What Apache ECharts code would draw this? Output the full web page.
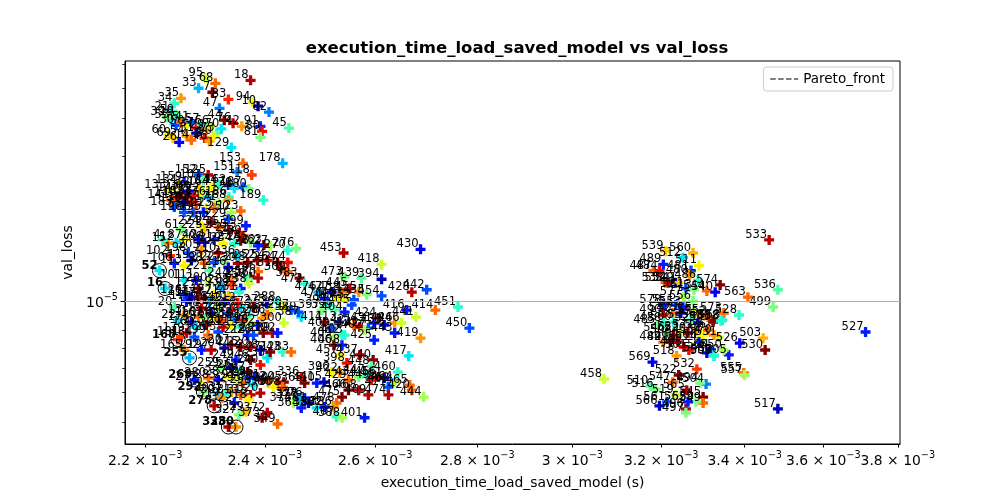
<!DOCTYPE html>
<html>
<head>
<meta charset="UTF-8">
<title></title>
</head>
<body style="margin: 0">
<div id="container" style="width: 1000px; height: 500px"></div>
<script src="https://cdn.jsdelivr.net/npm/echarts@6/dist/echarts.min.js" type="text/javascript" charset="utf-8"></script>
<script type="text/javascript">
// rows: [label, time (ms), val_loss (x1e-6), colour value 0..1 on jet]
var topLeftPts = [
  ['18', 2.375, 53.3, 0.95], ['95', 2.298, 54.1, 0.6], ['68', 2.315, 52.1, 0.8], ['33', 2.287, 50.2, 0.3],
  ['7', 2.310, 48.7, 1.0], ['83', 2.337, 46.1, 0.87], ['35', 2.258, 46.5, 0.75], ['34', 2.247, 44.8, 0.4],
  ['94', 2.378, 45.1, 0.65], ['10', 2.388, 43.8, 0.05], ['82', 2.407, 41.9, 0.25], ['47', 2.322, 43.1, 0.25],
  ['21', 2.242, 41.9, 0.35], ['19', 2.250, 40.3, 0.45], ['45', 2.442, 37.1, 0.45], ['44', 2.330, 39.4, 1.0],
  ['42', 2.360, 37.6, 0.75], ['91', 2.392, 37.6, 0.15], ['80', 2.395, 36.2, 0.9], ['81', 2.392, 34.6, 0.5],
  ['76', 2.345, 38.5, 0.95], ['129', 2.342, 32.0, 0.35], ['153', 2.362, 28.4, 0.8], ['178', 2.431, 28.4, 0.3],
  ['151', 2.352, 26.6, 0.25], ['118', 2.377, 26.0, 0.85],
  ['53', 2.242, 39.4, 0.35], ['30', 2.250, 37.9, 0.2], ['5', 2.258, 38.8, 0.8], ['50', 2.267, 37.6, 0.65],
  ['41', 2.275, 38.8, 0.2], ['37', 2.283, 37.1, 0.9], ['57', 2.292, 38.2, 0.4], ['29', 2.300, 36.5, 0.75],
  ['66', 2.308, 37.6, 0.6], ['73', 2.317, 35.7, 0.45], ['70', 2.325, 36.9, 0.35], ['60', 2.237, 35.2, 0.65],
  ['69', 2.245, 34.4, 0.7], ['54', 2.267, 34.9, 0.75], ['14', 2.275, 33.9, 0.8], ['31', 2.283, 35.7, 0.05],
  ['8', 2.297, 34.4, 0.9], ['46', 2.305, 33.6, 0.75], ['90', 2.313, 34.9, 0.65], ['26', 2.255, 33.3, 0.1],
  ['39', 2.235, 40.3, 0.5], ['59', 2.250, 41.1, 0.45]
];
var upperPts = [
  ['152', 2.287, 26.0, 0.2], ['125', 2.303, 26.0, 0.95], ['159', 2.263, 24.6, 0.15], ['107', 2.295, 25.0, 0.45],
  ['164', 2.308, 23.7, 0.65], ['120', 2.288, 23.7, 0.7], ['144', 2.322, 24.1, 0.4], ['162', 2.337, 24.1, 0.15],
  ['170', 2.347, 23.5, 0.35], ['187', 2.363, 23.7, 0.2], ['180', 2.372, 23.4, 0.5], ['186', 2.338, 22.0, 0.4],
  ['188', 2.337, 21.5, 0.75], ['171', 2.320, 21.2, 0.55], ['189', 2.397, 21.5, 0.4], ['142', 2.275, 21.2, 0.9],
  ['136', 2.262, 21.0, 0.05], ['196', 2.263, 19.6, 0.2], ['190', 2.278, 19.6, 0.2], ['201', 2.300, 20.2, 0.65],
  ['195', 2.295, 19.6, 0.15], ['223', 2.313, 20.2, 0.8], ['123', 2.358, 19.8, 0.8], ['250', 2.342, 19.6, 0.55],
  ['147', 2.258, 22.7, 0.95], ['110', 2.253, 22.0, 1.0], ['141', 2.242, 21.5, 0.8], ['155', 2.267, 22.0, 1.0],
  ['158', 2.280, 22.3, 0.9], ['133', 2.237, 23.2, 0.65], ['183', 2.247, 20.4, 0.2], ['134', 2.255, 24.1, 0.7],
  ['172', 2.292, 22.7, 0.6], ['139', 2.270, 23.0, 0.1], ['176', 2.303, 22.0, 0.3], ['185', 2.283, 20.8, 0.85],
  ['61', 2.258, 17.2, 0.5], ['224', 2.292, 17.7, 0.65], ['202', 2.308, 18.2, 1.0], ['229', 2.337, 18.6, 0.2],
  ['299', 2.367, 17.7, 0.15], ['235', 2.338, 17.1, 0.95], ['231', 2.322, 17.5, 0.8], ['232', 2.355, 16.8, 0.9],
  ['239', 2.363, 16.4, 0.85], ['225', 2.297, 17.1, 0.7]
];
var mainPts = [
  ['276', 2.455, 14.9, 0.5], ['270', 2.440, 14.7, 0.4], ['27', 2.409, 15.2, 0.55], ['263', 2.398, 15.3, 1.0],
  ['262', 2.388, 15.2, 0.15], ['245', 2.375, 15.6, 0.5], ['237', 2.358, 15.8, 1.0], ['234', 2.347, 15.5, 0.4],
  ['219', 2.328, 15.5, 0.65], ['241', 2.313, 15.9, 0.15], ['206', 2.297, 15.6, 0.05], ['40', 2.287, 15.9, 0.1],
  ['87', 2.263, 15.9, 0.65], ['12', 2.250, 15.6, 0.35], ['15', 2.237, 15.5, 0.75], ['4', 2.228, 15.9, 0.4],
  ['106', 2.247, 13.3, 0.15], ['113', 2.263, 13.1, 0.65], ['119', 2.275, 13.6, 0.05], ['98', 2.297, 13.3, 0.8],
  ['217', 2.313, 13.4, 0.2], ['227', 2.330, 13.4, 0.5], ['230', 2.353, 13.3, 0.95], ['248', 2.370, 13.4, 1.0],
  ['252', 2.387, 13.6, 1.0], ['254', 2.404, 13.6, 0.9], ['264', 2.422, 13.4, 1.0], ['274', 2.440, 13.4, 0.9],
  ['236', 2.352, 14.1, 0.35], ['210', 2.320, 14.4, 0.9], ['205', 2.292, 14.7, 0.75], ['198', 2.270, 14.4, 0.2],
  ['102', 2.240, 14.1, 0.85], ['216', 2.337, 12.9, 0.1], ['221', 2.305, 12.6, 0.45],
  ['310', 2.428, 12.8, 1.0], ['309', 2.440, 12.5, 0.8], ['383', 2.461, 11.9, 1.0], ['266', 2.388, 12.5, 0.8],
  ['257', 2.375, 12.0, 1.0], ['260', 2.388, 11.9, 0.95], ['258', 2.370, 11.8, 0.45], ['244', 2.342, 11.9, 0.75],
  ['101', 2.263, 11.7, 0.35], ['111', 2.283, 11.7, 0.1], ['127', 2.287, 11.0, 1.0], ['200', 2.305, 11.5, 0.6],
  ['126', 2.263, 10.5, 0.2], ['131', 2.275, 10.3, 0.05], ['145', 2.287, 10.2, 0.9], ['174', 2.297, 10.2, 1.0],
  ['177', 2.313, 10.5, 0.65], ['193', 2.325, 11.1, 0.3], ['208', 2.342, 11.3, 0.85], ['222', 2.358, 11.0, 0.15],
  ['238', 2.372, 11.4, 0.6], ['251', 2.355, 10.7, 0.4], ['214', 2.337, 10.4, 0.7],
  ['288', 2.422, 9.92, 0.4], ['275', 2.404, 9.70, 0.05], ['284', 2.409, 9.34, 0.6], ['290', 2.433, 9.56, 0.65],
  ['297', 2.446, 9.34, 0.2], ['300', 2.433, 8.47, 0.6], ['289', 2.413, 7.85, 0.95], ['281', 2.397, 7.85, 1.0],
  ['282', 2.387, 8.34, 0.15], ['286', 2.404, 9.00, 0.8], ['279', 2.395, 8.79, 0.75], ['273', 2.380, 9.56, 1.0],
  ['265', 2.372, 9.00, 0.4], ['256', 2.358, 9.56, 0.35], ['247', 2.342, 9.34, 0.9], ['242', 2.337, 9.13, 0.2],
  ['13', 2.263, 9.00, 0.75], ['150', 2.287, 8.86, 0.8], ['160', 2.313, 8.79, 0.65], ['167', 2.297, 8.79, 0.5],
  ['175', 2.275, 8.53, 0.1], ['179', 2.267, 7.85, 0.95], ['181', 2.258, 7.61, 0.85], ['184', 2.280, 7.61, 0.2],
  ['199', 2.303, 7.73, 0.8], ['203', 2.320, 7.91, 0.2], ['209', 2.328, 8.21, 0.95], ['211', 2.342, 8.34, 0.65],
  ['213', 2.358, 8.21, 0.4], ['218', 2.370, 7.73, 0.15], ['226', 2.380, 7.73, 0.2], ['20', 2.247, 9.56, 0.45],
  ['22', 2.253, 8.66, 0.35], ['17', 2.267, 10.0, 0.15], ['212', 2.353, 9.85, 0.9], ['116', 2.305, 9.90, 0.3],
  ['128', 2.320, 9.63, 0.55], ['140', 2.330, 9.92, 0.1], ['148', 2.292, 9.48, 0.95], ['157', 2.308, 9.13, 0.05],
  ['163', 2.325, 8.66, 0.85], ['169', 2.283, 8.21, 0.35], ['173', 2.300, 8.34, 1.0], ['182', 2.347, 8.79, 0.25],
  ['191', 2.362, 8.66, 0.9], ['194', 2.375, 8.47, 0.6]
];
var lowerPts = [
  ['192', 2.292, 6.90, 0.15], ['197', 2.308, 6.90, 0.95], ['204', 2.330, 7.00, 0.05], ['207', 2.342, 7.16, 1.0],
  ['215', 2.358, 7.06, 1.0], ['220', 2.375, 7.06, 0.95], ['228', 2.392, 6.90, 0.1], ['233', 2.404, 6.50, 0.35],
  ['240', 2.392, 6.16, 0.9], ['246', 2.375, 6.40, 1.0], ['249', 2.350, 6.40, 0.15], ['253', 2.342, 6.02, 0.05],
  ['259', 2.325, 6.02, 0.5], ['261', 2.358, 5.93, 0.4], ['267', 2.370, 5.84, 1.0], ['271', 2.409, 6.80, 1.0],
  ['243', 2.431, 6.80, 0.4], ['283', 2.446, 6.80, 0.8], ['165', 2.263, 6.90, 0.75],
  ['277', 2.288, 5.41, 0.65], ['280', 2.303, 5.58, 0.8], ['285', 2.320, 5.50, 0.1], ['287', 2.337, 5.62, 0.65],
  ['291', 2.353, 5.50, 0.6], ['293', 2.362, 5.37, 0.8], ['294', 2.372, 5.58, 0.2], ['296', 2.383, 5.62, 0.15],
  ['298', 2.380, 5.29, 0.35], ['301', 2.395, 5.50, 1.0], ['302', 2.406, 5.41, 0.8], ['336', 2.464, 5.62, 0.9],
  ['304', 2.422, 5.37, 0.95], ['305', 2.433, 5.41, 1.0], ['306', 2.415, 5.21, 0.65], ['308', 2.431, 5.21, 0.8],
  ['365', 2.470, 5.37, 1.0], ['303', 2.320, 4.98, 0.3], ['307', 2.330, 4.91, 0.4], ['311', 2.342, 5.02, 0.75],
  ['313', 2.358, 4.91, 0.8], ['315', 2.375, 4.91, 0.95], ['320', 2.392, 4.98, 0.95], ['318', 2.372, 4.73, 0.65],
  ['319', 2.325, 4.80, 0.75], ['322', 2.347, 4.62, 0.15], ['327', 2.355, 4.22, 0.5], ['329', 2.367, 4.32, 0.7],
  ['373', 2.395, 4.13, 1.0], ['372', 2.404, 4.29, 0.95], ['349', 2.422, 3.94, 0.8], ['378', 2.461, 4.80, 0.15],
  ['374', 2.450, 4.62, 0.55], ['364', 2.464, 4.45, 0.15], ['381', 2.477, 4.62, 0.05]
];
var midPts = [
  ['453', 2.541, 14.4, 0.95], ['430', 2.687, 14.8, 0.1], ['418', 2.612, 13.2, 0.6], ['473', 2.543, 12.0, 0.5],
  ['439', 2.574, 11.9, 0.45], ['394', 2.612, 11.8, 0.05], ['442', 2.699, 10.9, 0.2], ['428', 2.670, 10.7, 0.95],
  ['454', 2.612, 10.4, 0.2], ['435', 2.584, 10.5, 0.5], ['451', 2.761, 9.56, 0.4], ['414', 2.716, 9.34, 0.8],
  ['416', 2.660, 9.34, 0.15], ['441', 2.678, 8.86, 0.6], ['426', 2.637, 8.47, 0.75], ['446', 2.650, 8.47, 0.6],
  ['450', 2.784, 8.15, 0.2], ['419', 2.687, 7.55, 0.75], ['472', 2.470, 11.4, 0.4], ['476', 2.495, 10.7, 0.3],
  ['477', 2.519, 10.7, 0.05], ['438', 2.538, 10.7, 0.8], ['445', 2.552, 11.0, 0.95], ['455', 2.569, 10.7, 0.75],
  ['452', 2.560, 10.1, 0.2], ['463', 2.543, 10.2, 0.65], ['467', 2.532, 10.1, 0.65], ['470', 2.506, 10.2, 0.15],
  ['395', 2.514, 9.70, 0.4], ['397', 2.501, 9.34, 0.5], ['399', 2.525, 9.34, 0.45], ['404', 2.543, 9.20, 0.15],
  ['405', 2.556, 9.70, 0.2], ['387', 2.464, 8.86, 0.35], ['389', 2.459, 9.20, 0.2], ['411', 2.506, 8.53, 1.0],
  ['413', 2.532, 8.53, 0.15], ['421', 2.560, 8.34, 0.8], ['423', 2.571, 8.21, 0.95], ['427', 2.587, 8.15, 0.2],
  ['424', 2.606, 8.80, 1.0], ['431', 2.598, 8.47, 0.15], ['433', 2.617, 8.34, 0.05], ['443', 2.637, 7.85, 0.15],
  ['403', 2.543, 7.73, 0.4], ['400', 2.519, 8.15, 0.2], ['402', 2.580, 8.03, 0.55],
  ['392', 2.422, 7.85, 0.15], ['409', 2.523, 7.55, 0.55], ['412', 2.538, 7.73, 0.4], ['425', 2.598, 7.44, 0.15],
  ['406', 2.523, 7.16, 1.0], ['408', 2.538, 7.16, 0.15], ['437', 2.571, 6.65, 0.95], ['417', 2.664, 6.60, 0.35],
  ['440', 2.596, 6.40, 1.0], ['457', 2.534, 6.65, 0.65], ['398', 2.547, 6.25, 0.9], ['448', 2.593, 6.10, 0.45],
  ['460', 2.643, 5.84, 0.4], ['396', 2.519, 5.84, 0.65], ['410', 2.492, 5.37, 0.15], ['415', 2.505, 5.41, 0.05],
  ['422', 2.534, 5.80, 0.75], ['429', 2.550, 5.50, 0.8], ['434', 2.569, 5.62, 0.5], ['447', 2.584, 5.71, 0.4],
  ['449', 2.593, 5.50, 0.9], ['456', 2.606, 5.62, 0.95], ['461', 2.617, 5.58, 0.05], ['462', 2.631, 5.37, 0.3],
  ['464', 2.637, 5.41, 0.6], ['471', 2.625, 5.21, 0.2], ['465', 2.666, 5.29, 0.8], ['466', 2.550, 5.09, 1.0],
  ['468', 2.569, 5.09, 0.95], ['469', 2.587, 4.91, 0.95], ['444', 2.693, 4.83, 0.55], ['420', 2.670, 5.09, 0.8],
  ['474', 2.625, 4.91, 0.95], ['475', 2.538, 4.83, 1.0], ['478', 2.528, 4.62, 0.8], ['376', 2.470, 4.80, 0.15],
  ['377', 2.461, 4.73, 0.3], ['380', 2.492, 4.45, 0.35], ['382', 2.506, 4.48, 0.15], ['386', 2.523, 4.48, 0.75],
  ['407', 2.528, 4.16, 0.4], ['388', 2.538, 4.13, 0.55], ['401', 2.580, 4.13, 0.15]
];
var rightPts = [
  ['533', 3.461, 15.9, 0.95], ['539', 3.210, 14.6, 0.7], ['560', 3.275, 14.4, 0.72], ['512', 3.251, 13.9, 0.35],
  ['511', 3.289, 13.1, 0.65], ['489', 3.205, 13.2, 0.15], ['487', 3.182, 12.6, 0.8], ['484', 3.196, 12.6, 0.9],
  ['481', 3.270, 12.6, 0.2], ['480', 3.267, 12.2, 0.75], ['486', 3.287, 11.7, 0.4], ['574', 3.340, 11.3, 1.0],
  ['536', 3.483, 10.9, 0.45], ['544', 3.308, 10.8, 0.8], ['540', 3.328, 10.7, 0.1], ['538', 3.210, 11.5, 0.8],
  ['534', 3.217, 11.5, 0.95], ['529', 3.234, 11.5, 0.05], ['521', 3.258, 11.0, 0.2], ['513', 3.277, 10.9, 0.5],
  ['541', 3.241, 11.5, 0.7], ['563', 3.408, 10.3, 0.8], ['499', 3.471, 9.56, 0.5], ['527', 3.712, 7.91, 0.15],
  ['573', 3.349, 9.13, 0.8], ['528', 3.386, 9.00, 0.4], ['568', 3.345, 8.66, 0.35], ['580', 3.323, 8.66, 1.0],
  ['503', 3.446, 7.55, 0.72], ['526', 3.388, 7.27, 0.1], ['531', 3.337, 7.61, 0.6], ['530', 3.451, 6.90, 1.0],
  ['505', 3.361, 6.65, 0.15], ['509', 3.325, 6.60, 0.35], ['548', 3.308, 6.75, 0.1], ['518', 3.236, 6.60, 0.75],
  ['569', 3.180, 6.30, 0.1], ['532', 3.284, 5.97, 0.85], ['555', 3.398, 5.80, 0.8], ['557', 3.400, 5.71, 0.55],
  ['458', 3.070, 5.54, 0.6], ['516', 3.187, 5.13, 0.5], ['510', 3.175, 5.25, 0.45], ['504', 3.306, 5.33, 0.25],
  ['494', 3.292, 5.37, 0.5], ['522', 3.241, 5.71, 1.0], ['547', 3.227, 5.41, 0.8], ['517', 3.483, 4.42, 0.05],
  ['566', 3.196, 4.52, 0.05], ['496', 3.258, 4.42, 0.95], ['497', 3.258, 4.29, 0.5], ['545', 3.299, 4.83, 1.0],
  ['549', 3.299, 4.62, 0.8], ['559', 3.282, 4.66, 0.5], ['562', 3.263, 4.66, 0.15], ['565', 3.260, 5.09, 0.95],
  ['561', 3.214, 4.66, 0.2], ['519', 3.234, 4.91, 0.6],
  ['578', 3.205, 9.70, 0.15], ['551', 3.234, 9.70, 0.2], ['553', 3.251, 9.56, 0.15], ['577', 3.253, 10.3, 0.55],
  ['556', 3.275, 10.0, 0.5], ['542', 3.227, 9.13, 0.8], ['490', 3.205, 9.00, 0.95], ['485', 3.191, 8.34, 0.5],
  ['488', 3.205, 8.47, 0.4], ['500', 3.229, 8.53, 0.4], ['507', 3.246, 9.13, 0.05], ['515', 3.277, 9.13, 0.6],
  ['575', 3.294, 9.00, 0.75], ['552', 3.311, 8.86, 0.8], ['543', 3.323, 8.53, 1.0], ['558', 3.342, 8.60, 0.4],
  ['535', 3.270, 8.66, 0.4], ['525', 3.287, 8.47, 0.05], ['546', 3.214, 7.85, 0.5], ['508', 3.229, 7.73, 1.0],
  ['523', 3.246, 7.91, 0.6], ['520', 3.263, 7.85, 0.95], ['571', 3.282, 8.03, 0.75], ['554', 3.299, 7.73, 0.65],
  ['576', 3.311, 8.03, 0.8], ['570', 3.325, 7.73, 0.75], ['482', 3.205, 7.33, 0.8], ['491', 3.222, 7.33, 1.0],
  ['495', 3.239, 7.33, 0.9], ['498', 3.253, 7.06, 0.95], ['501', 3.265, 6.90, 0.9], ['506', 3.289, 7.44, 0.65],
  ['514', 3.289, 7.33, 0.15], ['524', 3.318, 6.90, 0.15], ['537', 3.325, 6.65, 0.4], ['550', 3.349, 6.90, 0.55]
];
var paretoPts = [
  ['52', 2.223, 12.6, 0.35], ['16', 2.232, 11.0, 0.35], ['168', 2.253, 7.47, 0.85], ['255', 2.272, 6.50, 0.3],
  ['269', 2.280, 5.50, 0.15], ['292', 2.295, 5.02, 0.5], ['278', 2.313, 4.52, 0.95], ['328', 2.337, 3.85, 0.95],
  ['330', 2.350, 3.85, 0.75]
];

var xTicksMs = [2.2, 2.4, 2.6, 2.8, 3.0, 3.2, 3.4, 3.6, 3.8];
var yMajorTicks = [1e-5];
var yMinorTicks = [4e-6, 5e-6, 6e-6, 7e-6, 8e-6, 9e-6, 2e-5, 3e-5, 4e-5, 5e-5, 6e-5];
var xRange = [2.168e-3, 3.806e-3];
var yRange = [3.385e-6, 6.17e-5];

function lg(v) { return Math.log(v) / Math.LN10; }

// matplotlib jet
function jet(v) {
  function lerp(pts) {
    for (var i = 1; i < pts.length; i++) {
      if (v <= pts[i][0]) {
        var t = (v - pts[i - 1][0]) / (pts[i][0] - pts[i - 1][0]);
        return pts[i - 1][1] + t * (pts[i][1] - pts[i - 1][1]);
      }
    }
    return pts[pts.length - 1][1];
  }
  var r = lerp([[0, 0], [0.35, 0], [0.66, 1], [0.89, 1], [1, 0.5]]);
  var g = lerp([[0, 0], [0.125, 0], [0.375, 1], [0.64, 1], [0.91, 0], [1, 0]]);
  var b = lerp([[0, 0.5], [0.11, 1], [0.34, 1], [0.65, 0], [1, 0]]);
  return 'rgb(' + Math.round(r * 255) + ',' + Math.round(g * 255) + ',' + Math.round(b * 255) + ')';
}

function toItem(row, bold) {
  var it = {
    name: row[0],
    value: [lg(row[1] * 1e-3), lg(row[2] * 1e-6)],
    itemStyle: { color: jet(row[3]), opacity: 1 }
  };
  if (bold) it.label = { fontWeight: 'bold' };
  return it;
}

var allRows = [].concat(topLeftPts, upperPts, mainPts, lowerPts, midPts, rightPts);
var scatterData = allRows.map(function (r) { return toItem(r, false); })
  .concat(paretoPts.map(function (r) { return toItem(r, true); }));
var circleData = paretoPts.map(function (r) { return [lg(r[1] * 1e-3), lg(r[2] * 1e-6)]; });

var plusPath = 'path://M1,0H2V1H3V2H2V3H1V2H0V1H1Z';
var FONT = 'DejaVu Sans';

var dom = document.getElementById('container');
var myChart = echarts.init(dom);

var option = {
  animation: false,
  textStyle: { fontFamily: FONT },
  title: {
    text: 'execution_time_load_saved_model vs val_loss',
    left: 512, top: 35, textAlign: 'center',
    textStyle: { fontFamily: FONT, fontSize: 16.5, fontWeight: 'bold', color: '#000' }
  },
  legend: {
    data: ['Pareto_front'],
    right: 107, top: 67,
    itemWidth: 28, itemHeight: 12, itemGap: 8,
    padding: [5, 8, 5, 6],
    borderColor: '#cccccc', borderWidth: 1, borderRadius: 3,
    backgroundColor: '#fff',
    itemStyle: { opacity: 0, borderWidth: 0 },
    lineStyle: { type: [5.5, 2.4], color: '#555', width: 1.5, opacity: 1 },
    textStyle: { fontFamily: FONT, fontSize: 13.5, color: '#000' }
  },
  grid: {
    left: 125, right: 100, top: 61, bottom: 56,
    show: true, borderColor: '#000', borderWidth: 1
  },
  xAxis: {
    type: 'value',
    min: lg(xRange[0]), max: lg(xRange[1]),
    name: 'execution_time_load_saved_model (s)',
    nameLocation: 'middle', nameGap: 32,
    nameTextStyle: { fontFamily: FONT, fontSize: 13.9, color: '#000' },
    axisLine: { show: true, lineStyle: { color: '#000' } },
    axisTick: { show: true, length: 3.5, lineStyle: { color: '#000' }, customValues: xTicksMs.map(function (m) { return lg(m * 1e-3); }) },
    axisLabel: {
      margin: 6,
      customValues: xTicksMs.map(function (m) { return lg(m * 1e-3); }),
      formatter: function (v) {
        var m = Math.round(Math.pow(10, v) * 1e4) / 10;
        return '{m|' + m + ' \u00d7 10}{e|\u22123}';
      },
      rich: {
        m: { fontFamily: FONT, fontSize: 13.9, color: '#000', lineHeight: 18, verticalAlign: 'bottom' },
        e: { fontFamily: FONT, fontSize: 9.7, color: '#000', verticalAlign: 'top', lineHeight: 18 }
      }
    },
    splitLine: { show: false }
  },
  yAxis: [{
    type: 'value',
    min: lg(yRange[0]), max: lg(yRange[1]),
    name: 'val_loss',
    nameLocation: 'middle', nameGap: 45,
    nameTextStyle: { fontFamily: FONT, fontSize: 13.9, color: '#000' },
    axisLine: { show: true, lineStyle: { color: '#000' } },
    axisTick: { show: true, length: 4.5, lineStyle: { color: '#000' }, customValues: yMajorTicks.map(lg) },
    axisLabel: {
      margin: 7,
      customValues: yMajorTicks.map(lg),
      formatter: function (v) {
        return '{m|10}{e|\u2212' + Math.round(-v) + '}';
      },
      rich: {
        m: { fontFamily: FONT, fontSize: 13.9, color: '#000', lineHeight: 18, verticalAlign: 'bottom' },
        e: { fontFamily: FONT, fontSize: 9.7, color: '#000', verticalAlign: 'top', lineHeight: 18 }
      }
    },
    splitLine: { show: false }
  }, {
    type: 'value',
    position: 'left',
    min: lg(yRange[0]), max: lg(yRange[1]),
    axisLine: { show: false },
    axisTick: { show: true, length: 2.8, lineStyle: { color: '#000', width: 0.8 }, customValues: yMinorTicks.map(lg) },
    axisLabel: { show: false },
    splitLine: { show: false }
  }],
  series: [
    {
      name: 'points',
      type: 'scatter',
      symbol: plusPath,
      symbolSize: 10,
      data: scatterData,
      label: {
        show: true,
        formatter: '{b}',
        position: 'left',
        distance: 0,
        offset: [3, -5],
        fontFamily: FONT,
        fontSize: 11.5,
        color: '#000'
      },
      markLine: {
        silent: true,
        symbol: ['none', 'none'],
        label: { show: false },
        lineStyle: { color: '#b0b0b0', type: 'solid', width: 1 },
        data: [{ yAxis: lg(1e-5) }]
      }
    },
    {
      name: 'pareto_circles',
      type: 'scatter',
      symbol: 'circle',
      symbolSize: 14,
      data: circleData,
      itemStyle: { color: 'rgba(0,0,0,0)', borderColor: '#000', borderWidth: 1, opacity: 1 },
      z: 3
    },
    {
      name: 'Pareto_front',
      type: 'line',
      data: [],
      symbol: 'none',
      itemStyle: { color: '#555' },
      lineStyle: { type: [5.5, 2.4], color: '#555', width: 1.5 }
    }
  ]
};

myChart.setOption(option);
</script>
</body>
</html>
